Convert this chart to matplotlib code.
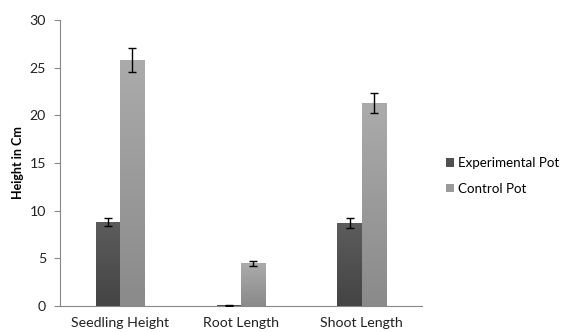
import numpy as np
import matplotlib.pyplot as plt
from matplotlib.patches import Patch

categories = ["Seedling Height", "Root Length", "Shoot Length"]
experimental = [8.8, 0.1, 8.7]
experimental_err = [0.45, 0.05, 0.5]
control = [25.8, 4.5, 21.3]
control_err = [1.3, 0.25, 1.05]

plt.rcParams['font.family'] = ['Lato', 'DejaVu Sans']

fig = plt.figure(figsize=(5.71, 3.32), dpi=100)
ax = fig.add_axes([0.105, 0.078, 0.634, 0.862])

x = np.arange(len(categories))
w = 0.2


def gradient_bars(xs, heights, top_col, bot_col):
    bars = ax.bar(xs, heights, w, color='none', edgecolor='none', zorder=2)
    grad = np.linspace(0, 1, 100).reshape(-1, 1)
    cmap = plt.matplotlib.colors.LinearSegmentedColormap.from_list('g', [bot_col, top_col])
    for b in bars:
        x0, y0 = b.get_x(), b.get_y()
        im = ax.imshow(grad, extent=[x0, x0 + b.get_width(), y0, y0 + b.get_height()],
                       origin='lower', cmap=cmap, aspect='auto', zorder=2)
        im.set_clip_path(b)
    return bars


gradient_bars(x - w / 2, experimental, '#5c5c5c', '#444444')
gradient_bars(x + w / 2, control, '#ababab', '#8a8a8a')
ax.errorbar(x - w / 2, experimental, yerr=experimental_err, fmt='none', ecolor='black',
            elinewidth=1, capsize=3, capthick=1, zorder=3)
ax.errorbar(x + w / 2, control, yerr=control_err, fmt='none', ecolor='black',
            elinewidth=1, capsize=3, capthick=1, zorder=3)

ax.set_xlim(-0.5, 2.5)
ax.set_ylim(0, 30)
ax.set_yticks(range(0, 31, 5))
ax.set_xticks(x)
ax.set_xticklabels(categories)
ax.tick_params(axis='x', length=0, labelsize=10.2, colors='#222222', pad=8)
ax.tick_params(axis='y', length=4, labelsize=10.2, colors='#888888', labelcolor='#222222', pad=6)
for s in ['top', 'right']:
    ax.spines[s].set_visible(False)
for s in ['left', 'bottom']:
    ax.spines[s].set_color('#888888')
ax.set_ylabel("Height in Cm", fontsize=9, fontweight='bold', labelpad=4)

handles = [Patch(facecolor='#505050', label='Experimental Pot'),
           Patch(facecolor='#9a9a9a', label='Control Pot')]
fig.legend(handles=handles, loc='center left', bbox_to_anchor=(0.76, 0.47), frameon=False,
           fontsize=9.6, handlelength=0.6, handleheight=0.6, handletextpad=0.3, labelspacing=1.0)

fig.savefig("out.png", dpi=100)
